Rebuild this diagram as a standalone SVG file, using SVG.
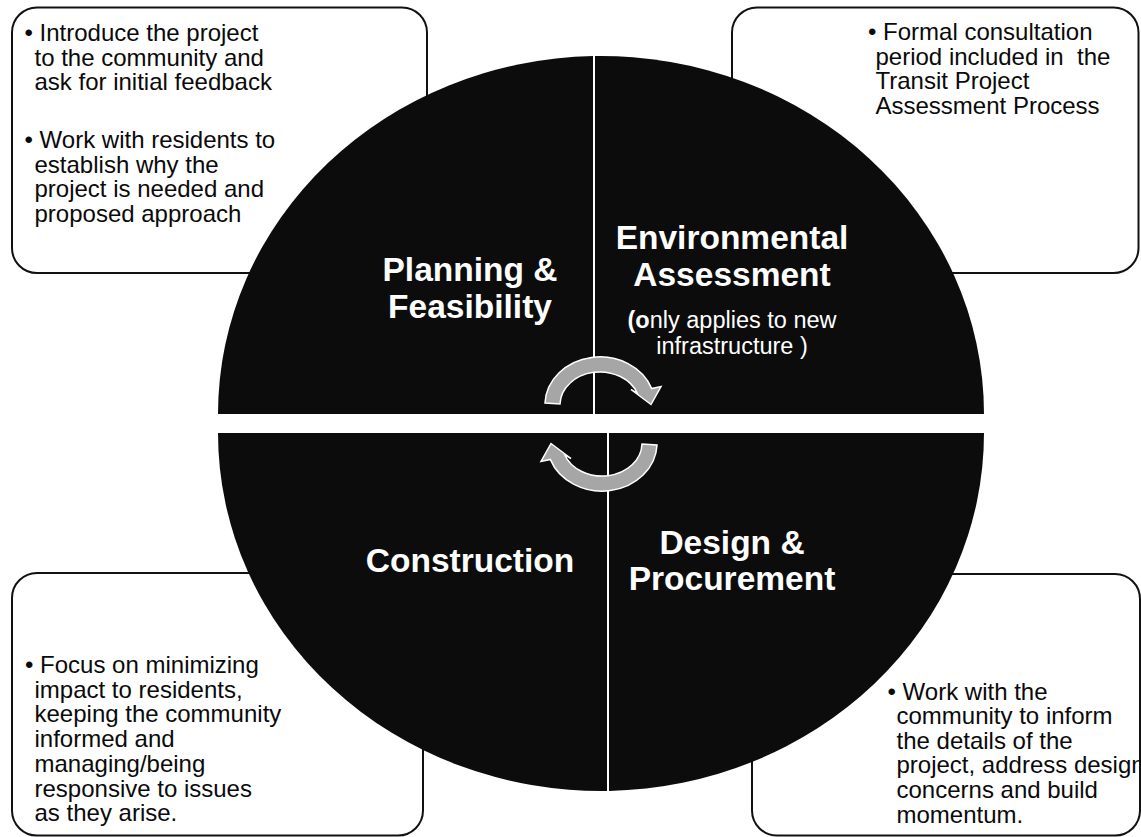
<svg xmlns="http://www.w3.org/2000/svg" xmlns:xlink="http://www.w3.org/1999/xlink" width="1141" height="837" viewBox="0 0 1141 837">
  <style>
    .box { fill: #ffffff; stroke: #111111; stroke-width: 2; }
    .quad { fill: #0c0c0c; stroke: none; }
    .body { font-family: "Liberation Sans", Arial, sans-serif; font-size: 24px; fill: #0a0a0a; }
    .title { font-family: "Liberation Sans", Arial, sans-serif; font-size: 33.5px; font-weight: bold; fill: #ffffff; text-anchor: middle; }
    .sub { font-family: "Liberation Sans", Arial, sans-serif; font-size: 23.5px; fill: #ffffff; text-anchor: middle; }
    .arrow { fill: #a6a6a6; stroke: #ffffff; stroke-width: 1.5; stroke-linejoin: miter; }
  </style>
  <defs>
    <path id="cyc" d="M 545,403 A 55 48 0 0 1 651.7,388.6 L 661,386.5 L 651,404.5 L 631,389.5 L 637.6,393.7 A 40 33 0 0 0 560,404 Z"/>
  </defs>
  <rect width="1141" height="837" fill="#ffffff"/>

  <g id="box-planning">
    <rect class="box" x="12" y="7.5" width="415" height="265.5" rx="25" ry="25"/>
  </g>
  <g id="box-environmental">
    <rect class="box" x="732" y="7.5" width="406.5" height="265.5" rx="25" ry="25"/>
  </g>
  <g id="box-construction">
    <rect class="box" x="12" y="573" width="411" height="262.5" rx="25" ry="25"/>
  </g>
  <g id="box-design">
    <rect class="box" x="752" y="574" width="388" height="261.5" rx="25" ry="25"/>
  </g>

  <g id="node-planning">
    <path class="quad" d="M 593,414 L 218,414 A 383 358 0 0 1 593,56.1 Z"/>
    <text class="title" x="470" y="281">Planning &amp;</text>
    <text class="title" x="470" y="318">Feasibility</text>
  </g>
  <g id="node-environmental">
    <path class="quad" d="M 595,414 L 595,56.1 A 383 358 0 0 1 984,414 Z"/>
    <text class="title" x="732" y="249">Environmental</text>
    <text class="title" x="732" y="286">Assessment</text>
    <text class="sub" x="732" y="328"><tspan font-weight="bold">(o</tspan>nly applies to new</text>
    <text class="sub" x="732" y="353.5">infrastructure )</text>
  </g>
  <g id="node-construction">
    <path class="quad" d="M 607,433 L 607,790.9 A 383 358 0 0 1 218,433 Z"/>
    <text class="title" x="470" y="572">Construction</text>
  </g>
  <g id="node-design">
    <path class="quad" d="M 609,433 L 984,433 A 383 358 0 0 1 609,790.9 Z"/>
    <text class="title" x="732" y="553.5">Design &amp;</text>
    <text class="title" x="732" y="589.5">Procurement</text>
  </g>

  <g id="connectors">
    <use xlink:href="#cyc" href="#cyc" class="arrow"/>
    <use xlink:href="#cyc" href="#cyc" class="arrow" transform="rotate(180 601 424)"/>
  </g>

  <g id="text-planning" class="body">
    <text x="24.5" y="41">• Introduce the project</text>
    <text x="34.5" y="65.5">to the community and</text>
    <text x="34.5" y="90">ask for initial feedback</text>
    <text x="24.5" y="148">• Work with residents to</text>
    <text x="34.5" y="172.5">establish why the</text>
    <text x="34.5" y="197">project is needed and</text>
    <text x="34.5" y="221.5">proposed approach</text>
  </g>
  <g id="text-environmental" class="body">
    <text x="868" y="40">• Formal consultation</text>
    <text x="875.5" y="64.5">period included in&#160; the</text>
    <text x="875.5" y="89">Transit Project</text>
    <text x="875.5" y="113.5">Assessment Process</text>
  </g>
  <g id="text-construction" class="body">
    <text x="25" y="673">• Focus on minimizing</text>
    <text x="34.5" y="697.7">impact to residents,</text>
    <text x="34.5" y="722.4">keeping the community</text>
    <text x="34.5" y="747.1">informed and</text>
    <text x="34.5" y="771.8">managing/being</text>
    <text x="34.5" y="796.5">responsive to issues</text>
    <text x="34.5" y="821.2">as they arise.</text>
  </g>
  <g id="text-design" class="body">
    <text x="887.5" y="699.5">• Work with the</text>
    <text x="896.5" y="724.1">community to inform</text>
    <text x="896.5" y="748.7">the details of the</text>
    <text x="896.5" y="773.3">project, address design</text>
    <text x="896.5" y="797.9">concerns and build</text>
    <text x="896.5" y="822.5">momentum.</text>
  </g>
</svg>
